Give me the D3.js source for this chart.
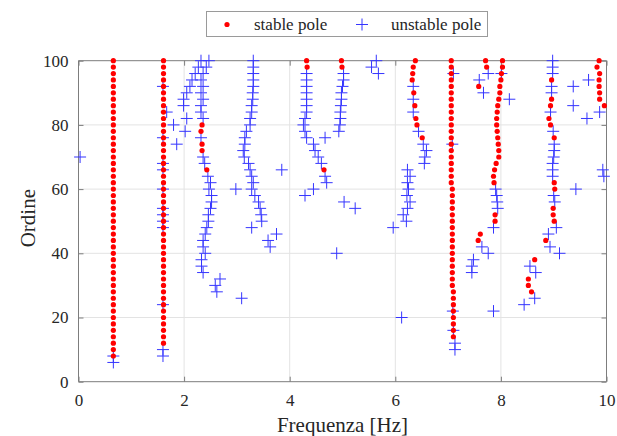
<!DOCTYPE html>
<html><head><meta charset="utf-8">
<script src="https://cdn.jsdelivr.net/npm/d3@7"></script>
<style>body{margin:0;background:#fff}svg{display:block}</style>
</head><body>
<svg id="chart" width="617" height="436"></svg>
<script>
// ---- data: [frequency Hz, model order] ----
const xTicks = [0, 2, 4, 6, 8, 10];
const yTicks = [0, 20, 40, 60, 80, 100];
const legendLabels = ["stable pole", "unstable pole"];

const stableMode1 = [[0.66,8],[0.66,10],[0.66,12],[0.66,14],[0.66,16],[0.66,18],[0.66,20],[0.66,22],[0.66,24],[0.66,26],[0.66,28],[0.66,30],[0.66,32],[0.66,34],[0.66,36],[0.66,38],[0.66,40],[0.66,42],[0.66,44],[0.66,46],[0.66,48],[0.66,50],[0.66,52],[0.66,54],[0.66,56],[0.66,58],[0.66,60],[0.66,62],[0.66,64],[0.66,66],[0.66,68],[0.66,70],[0.66,72],[0.66,74],[0.66,76],[0.66,78],[0.66,80],[0.66,82],[0.66,84],[0.66,86],[0.66,88],[0.66,90],[0.66,92],[0.66,94],[0.66,96],[0.66,98],[0.66,100]];
const stableMode2 = [[1.61,12],[1.61,14],[1.61,16],[1.61,18],[1.61,20],[1.61,22],[1.61,24],[1.61,26],[1.61,28],[1.61,30],[1.61,32],[1.61,34],[1.61,36],[1.61,38],[1.61,40],[1.61,42],[1.61,44],[1.61,46],[1.61,48],[1.61,50],[1.61,52],[1.61,54],[1.61,56],[1.61,58],[1.61,60],[1.61,62],[1.61,64],[1.61,66],[1.61,68],[1.61,70],[1.61,72],[1.61,74],[1.61,76],[1.61,78],[1.61,80],[1.61,82],[1.61,84],[1.61,86],[1.61,88],[1.61,90],[1.61,92],[1.61,94],[1.61,96],[1.61,98],[1.61,100]];
const stableMode3 = [[2.34,80],[2.32,78],[2.34,74],[2.34,72],[2.43,66]];
const stableMode4 = [[4.32,100],[4.33,98],[4.65,66]];
const stableMode5 = [[4.98,100],[4.99,98]];
const stableMode6 = [[6.38,100],[6.34,98],[6.33,96],[6.32,94],[6.35,90],[6.37,86],[6.39,82],[6.41,80],[6.51,76]];
const stableMode7 = [[7.10,14],[7.10,16],[7.10,18],[7.10,20],[7.10,22],[7.10,24],[7.10,26],[7.10,28],[7.08,30],[7.08,32],[7.08,34],[7.08,36],[7.08,38],[7.08,40],[7.08,42],[7.08,44],[7.08,46],[7.08,48],[7.08,50],[7.08,52],[7.08,54],[7.08,56],[7.08,58],[7.08,60],[7.06,62],[7.06,64],[7.06,66],[7.06,68],[7.06,70],[7.06,72],[7.06,74],[7.06,76],[7.06,78],[7.06,80],[7.06,82],[7.06,84],[7.06,86],[7.06,88],[7.06,90],[7.06,92],[7.06,94],[7.06,96],[7.06,98],[7.06,100]];
const stableMode8 = [[7.71,100],[7.73,98],[7.58,92]];
const stableMode9 = [[8.03,100],[8.03,98],[8.01,96],[8.00,94],[7.98,92],[7.98,90],[7.96,88],[7.94,86],[7.93,84],[7.92,82],[7.92,80],[7.93,78],[7.94,76],[7.95,74],[7.96,72],[7.96,70],[7.91,68],[7.88,66],[7.86,64],[7.87,62],[7.89,52],[7.89,50],[7.61,46],[7.57,44]];
const stableMode10 = [[8.64,38],[8.52,32],[8.52,30],[8.58,28]];
const stableMode11 = [[8.96,94],[8.96,88],[8.94,86],[8.91,82],[8.94,80],[9.01,76],[9.01,62],[9.02,60],[8.99,54],[8.99,52],[9.01,50],[8.85,44]];
const stableMode12 = [[9.86,100],[9.82,98],[9.87,96],[9.86,94],[9.86,92],[9.87,90],[9.87,88],[9.96,86]];

const unstableLow = [[0.66,8],[0.66,6],[0.03,70],[1.60,92],[1.67,84],[1.60,76],[1.60,68],[1.60,66],[1.60,60],[1.60,54],[1.60,52],[1.60,50],[1.60,48],[1.60,24],[1.60,10],[1.60,8]];
const unstable2Hz = [[2.47,100],[2.32,100],[2.27,98],[2.42,98],[2.21,96],[2.36,96],[2.15,94],[2.32,94],[2.11,92],[2.36,92],[2.05,90],[2.32,90],[1.99,88],[2.36,88],[1.99,86],[2.32,86],[2.32,84],[2.05,82],[2.36,82],[1.80,80],[2.02,78],[2.32,76],[1.86,74],[2.36,70],[2.39,68],[2.45,64],[2.50,62],[2.47,60],[2.52,58],[2.52,56],[2.50,54],[2.46,52],[2.46,50],[2.43,48],[2.40,46],[2.36,44],[2.36,42],[2.40,40],[2.33,38],[2.33,36],[2.36,34],[2.68,32],[2.59,30],[2.62,28],[3.09,26]];
const unstable3Hz = [[3.31,100],[3.31,98],[3.31,96],[3.31,94],[3.31,92],[3.30,90],[3.30,88],[3.28,86],[3.28,84],[3.25,82],[3.25,80],[3.18,78],[3.15,76],[3.15,74],[3.12,72],[3.14,70],[3.22,68],[3.25,66],[3.28,64],[3.31,62],[3.28,60],[3.34,58],[3.41,56],[3.44,54],[3.46,52],[3.47,50],[3.28,48],[3.75,46],[3.59,44],[3.63,42],[2.98,60],[3.85,66]];
const unstable4Hz = [[4.32,96],[4.32,94],[4.32,92],[4.32,90],[4.32,88],[4.32,86],[4.32,84],[4.29,82],[4.26,80],[4.29,78],[4.32,76],[4.67,76],[4.45,74],[4.48,72],[4.54,70],[4.60,68],[4.67,64],[4.70,62],[4.45,60],[4.29,58]];
const unstable5Hz = [[5.02,96],[5.02,94],[5.00,92],[4.98,90],[4.98,88],[4.97,86],[4.96,84],[4.96,82],[4.95,80],[4.93,78],[5.64,100],[5.55,98],[5.68,96],[5.03,56],[5.24,54],[4.89,40]];
const unstable6Hz = [[6.34,92],[6.34,88],[6.34,84],[6.44,78],[6.53,74],[6.59,72],[6.56,70],[6.55,68],[6.23,66],[6.28,64],[6.23,62],[6.25,60],[6.22,58],[6.28,56],[6.23,54],[6.15,52],[6.21,50],[5.96,48],[6.12,20]];
const unstable7Hz = [[7.10,96],[7.08,74],[7.09,22],[7.10,16],[7.13,12],[7.13,10]];
const unstable8Hz = [[7.76,96],[7.59,94],[7.67,90],[8.16,88],[8.01,96],[7.90,60],[7.92,58],[7.93,56],[7.94,54],[7.86,48],[7.64,42],[7.76,40],[7.48,38],[7.45,36],[7.45,34],[7.86,22]];
const unstable9Hz = [[8.98,100],[8.98,98],[8.98,96],[8.96,92],[8.96,90],[8.94,84],[8.99,78],[9.01,74],[9.01,72],[9.00,70],[8.98,68],[8.98,66],[8.98,64],[9.00,58],[9.02,56],[9.05,48],[8.90,46],[8.93,42],[9.11,40],[8.55,36],[8.66,34],[8.64,26],[8.44,24]];
const unstable10Hz = [[9.66,94],[9.37,92],[9.37,86],[9.87,84],[9.63,82],[9.93,66],[9.95,64],[9.42,60]];

const stablePoles = [].concat(stableMode1, stableMode2, stableMode3, stableMode4, stableMode5, stableMode6,
  stableMode7, stableMode8, stableMode9, stableMode10, stableMode11, stableMode12);
const unstablePoles = [].concat(unstableLow, unstable2Hz, unstable3Hz, unstable4Hz, unstable5Hz,
  unstable6Hz, unstable7Hz, unstable8Hz, unstable9Hz, unstable10Hz);

// ---- drawing ----
const svg = d3.select("#chart");
const L = 78.5, R = 606.5, T = 60.7, B = 381.7;
const x = d3.scaleLinear().domain([0, 10]).range([L, R]);
const y = d3.scaleLinear().domain([0, 100]).range([B, T]);
const serif = "'Liberation Serif','Times New Roman',Times,serif";
const blue = "#3535ff", red = "#ff0000", axisCol = "#7d7d7d";

// grid
const grid = svg.append("g");
grid.selectAll(".gx").data(xTicks.slice(1, -1)).enter().append("line")
  .attr("x1", d => x(d)).attr("x2", d => x(d)).attr("y1", T).attr("y2", B)
  .attr("stroke", "#e3e3e3").attr("stroke-width", 1);
grid.selectAll(".gy").data(yTicks.slice(1, -1)).enter().append("line")
  .attr("y1", d => y(d)).attr("y2", d => y(d)).attr("x1", L).attr("x2", R)
  .attr("stroke", "#e3e3e3").attr("stroke-width", 1);

// axes (MATLAB box style, inward ticks on all sides)
const tickLen = 5;
const xAxisB = d3.axisBottom(x).tickValues(xTicks).tickSize(-tickLen).tickPadding(12).tickFormat(d3.format("d"));
const xAxisT = d3.axisTop(x).tickValues(xTicks).tickSize(-tickLen).tickFormat("");
const yAxisL = d3.axisLeft(y).tickValues(yTicks).tickSize(-tickLen).tickPadding(10).tickFormat(d3.format("d"));
const yAxisR = d3.axisRight(y).tickValues(yTicks).tickSize(-tickLen).tickFormat("");

function styleAxis(g) {
  g.select(".domain").attr("stroke", axisCol).attr("stroke-width", 1);
  g.selectAll(".tick line").attr("stroke", axisCol);
  g.selectAll(".tick text").attr("fill", "#262626").style("font-family", serif).style("font-size", "17px");
}
svg.append("g").attr("transform", `translate(0,${B})`).call(xAxisB).call(styleAxis)
  .call(g => g.select(".domain").attr("d", `M${L},0H${R}`));
svg.append("g").attr("transform", `translate(0,${T})`).call(xAxisT).call(styleAxis)
  .call(g => g.select(".domain").attr("d", `M${L},0H${R}`));
svg.append("g").attr("transform", `translate(${L},0)`).call(yAxisL).call(styleAxis)
  .call(g => g.select(".domain").attr("d", `M0,${B}V${T}`));
svg.append("g").attr("transform", `translate(${R},0)`).call(yAxisR).call(styleAxis)
  .call(g => g.select(".domain").attr("d", `M0,${B}V${T}`));

// axis titles
svg.append("text").attr("x", (L + R) / 2).attr("y", 432).attr("text-anchor", "middle")
  .style("font-family", serif).style("font-size", "21px").attr("fill", "#262626").text("Frequenza [Hz]");
svg.append("text").attr("transform", `translate(35,${(T + B) / 2 - 3}) rotate(-90)`).attr("text-anchor", "middle")
  .style("font-family", serif).style("font-size", "21px").attr("fill", "#262626").text("Ordine");

// marks
const plot = svg.append("g");
const h = 6;
plot.selectAll(".up").data(unstablePoles).enter().append("path")
  .attr("d", d => `M${x(d[0]) - h},${y(d[1])}H${x(d[0]) + h}M${x(d[0])},${y(d[1]) - h}V${y(d[1]) + h}`)
  .attr("stroke", blue).attr("stroke-width", 1).attr("fill", "none");
plot.selectAll(".sp").data(stablePoles).enter().append("circle")
  .attr("cx", d => x(d[0])).attr("cy", d => y(d[1])).attr("r", 2.6).attr("fill", red);

// legend
const lg = svg.append("g");
lg.append("rect").attr("x", 206.5).attr("y", 11.5).attr("width", 281).attr("height", 25)
  .attr("fill", "#fff").attr("stroke", "#9a9a9a").attr("stroke-width", 1);
lg.append("circle").attr("cx", 227).attr("cy", 24.5).attr("r", 2.6).attr("fill", red);
lg.append("text").attr("x", 254).attr("y", 30).style("font-family", serif).style("font-size", "17px")
  .attr("fill", "#262626").text(legendLabels[0]);
lg.append("path").attr("d", `M${362 - h},24.5H${362 + h}M362,${24.5 - h}V${24.5 + h}`)
  .attr("stroke", blue).attr("stroke-width", 1);
lg.append("text").attr("x", 391).attr("y", 30).style("font-family", serif).style("font-size", "17px")
  .attr("fill", "#262626").text(legendLabels[1]);
</script>
</body></html>
